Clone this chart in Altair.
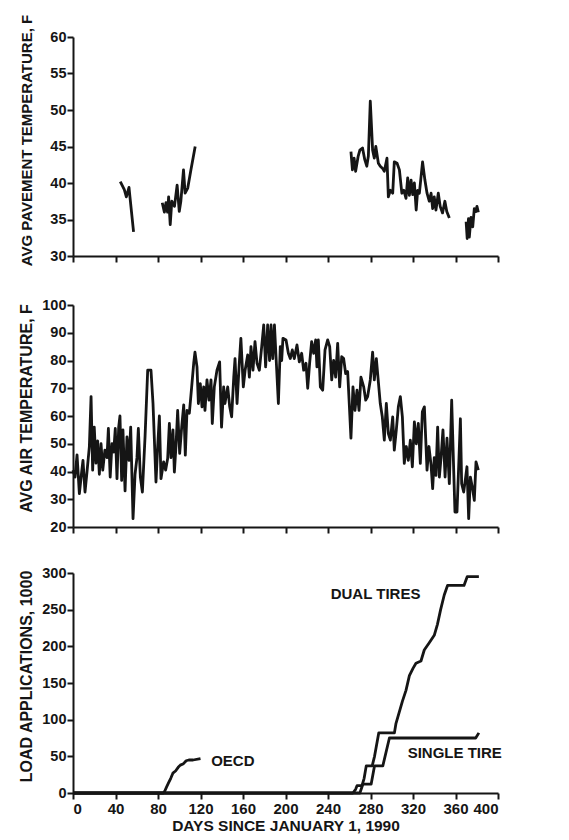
import altair as alt
import pandas as pd

# ---------------- data ----------------
# Average pavement temperature (F), four separate measurement periods
pave_seg = [1]*6 + [2]*16 + [3]*50 + [4]*10
pave_day = [44.5, 48.3, 50.2, 52.7, 53.6, 57.0,
            84, 86, 87.5, 89, 90, 91.5, 93, 95.5, 98, 100, 101.5, 104, 105.5, 108, 111, 115,
            261.6, 263, 264.6, 266, 268.3, 270, 272.5, 274.6, 276.5, 278, 279.8, 282, 283.6, 285, 287.4,
            289.2, 291.4, 293, 295.5, 296.8, 298.7, 300.9, 302.4, 305, 307.2, 309.5, 311.4, 313.4, 315,
            316.6, 318.2, 319.7, 321.3, 323, 324.4, 326, 329, 331.2, 333.2, 335.3, 337, 338.5, 340,
            341.6, 343.8, 345.6, 347.8, 350, 351.8, 354.2,
            370, 371, 372.2, 373, 374.6, 376.2, 377.7, 379.3, 380.2, 381.5]
pave_val = [40.2, 39.1, 38.1, 39.4, 38.1, 33.3,
            37.3, 36.0, 37.3, 36.0, 38.1, 34.3, 37.5, 36.8, 39.7, 36.1, 37.5, 41.8, 38.6, 39.3, 41.8, 45.0,
            44.3, 41.8, 43.4, 41.6, 43.6, 44.5, 44.8, 43.2, 42.3, 43.7, 51.2, 44.5, 43.4, 45.0, 42.7,
            42.3, 42.0, 41.6, 43.4, 38.1, 39.0, 38.6, 42.9, 42.7, 41.8, 38.6, 39.0, 37.9, 40.7,
            38.3, 40.4, 38.4, 40.0, 36.3, 39.0, 38.6, 42.9, 40.4, 38.6, 37.5, 38.6, 36.5, 38.1,
            36.3, 38.6, 36.8, 35.9, 37.5, 36.1, 35.2,
            34.7, 32.4, 35.1, 32.6, 35.3, 34.0, 36.5, 36.1, 36.8, 36.0]

# Average air temperature (F)
air_day = [0, 1.9, 3.8, 6, 8.2, 9.4, 11.3, 13.2, 15.4, 17, 18.5, 20, 21.6, 23.2, 24.8, 26.4, 28, 30,
           32, 33.3, 35, 36.7, 38.3, 39.8, 41.4, 43, 44.2, 45.8, 47, 49, 50.8, 52.7, 54.3, 56.5, 58.4,
           60.2, 61.5, 63.4, 65.3, 67.8, 70.3, 73.4, 75.3, 78.1, 79.7, 81.3, 82.8, 85.3, 87.2, 89.1,
           90.7, 92.2, 94.1, 95.4, 96.9, 98.5, 100.4, 102.3, 104.2, 105.7, 107.3, 109.5, 111.7, 113.6,
           114.8, 116.7, 118, 119.8, 121.4, 123, 124.2, 126.1, 128, 129.9, 131.1, 133, 135.5, 138,
           139.8, 141.8, 143, 145.6, 147.5, 149.3, 151.3, 152.5, 154.4, 156.5, 158, 160.3, 162, 164.4,
           166, 167.5, 169.4, 171.3, 173.2, 175.4, 177.6, 179.5, 181.3, 183.2, 185, 186.4, 188, 189.6,
           191.4, 193.3, 195.1, 196.4, 197.6, 200.5, 202.7, 204.5, 206.4, 208.3, 210.8, 213, 215.2,
           217.1, 219.3, 220.9, 222.7, 224.6, 226.5, 228.4, 229.6, 230.9, 232.8, 235, 237.2, 239.7,
           241.6, 243.5, 245.3, 247.2, 249.1, 251, 252.9, 254.7, 256.6, 258.5, 260, 261.6, 263.5,
           265.4, 267.3, 269.2, 271, 273.6, 275.5, 277.3, 279.8, 282, 283.6, 285.5, 287.4, 289.2,
           291.1, 293, 294.9, 296.8, 298.7, 300.9, 302.4, 304.3, 306.2, 308.1, 310, 311.8, 313.7,
           315.6, 317.5, 319.4, 321.3, 323.1, 325, 326.9, 328.8, 330.7, 333.2, 335, 337, 338.5, 340,
           341.6, 343.2, 344.8, 346.4, 348.2, 350.2, 352, 354.2, 356.4, 358.3, 359.5, 361.4, 363.3,
           364.6, 365.8, 367.7, 369.6, 370.8, 372.4, 374, 375.8, 377.7, 379.3, 381.5]
air_val = [40.5, 38, 46, 32, 40, 44, 32.6, 40, 49, 67, 40.5, 56, 43, 51, 39, 50, 40.5, 47.7,
           45, 55.5, 38, 50, 47, 55.5, 37.4, 56, 60, 36.8, 55, 33, 52.5, 44, 56, 23, 39,
           45, 55.5, 38, 32.6, 52.5, 76.5, 76.5, 64.5, 36.2, 49, 60, 37.4, 43.5, 40.5, 44.7,
           57.3, 45, 55, 39.8, 49, 62, 46.5, 56, 64, 45.9, 62, 61, 70.5, 79,
           83, 77.7, 64.5, 71.7, 63.3, 70.5, 62, 73, 65.7, 73, 57.3, 70.5, 76.5, 79.5,
           56, 70.5, 64.5, 70.5, 63.3, 59.7, 74, 80.7, 64.5, 79, 88, 70.5, 76.5, 82,
           74, 85, 76.5, 86.8, 79, 76.5, 85, 92.8, 77.7, 92.8, 80, 92.8, 80.7, 92.8,
           79, 64.5, 85, 80, 88, 87.4, 82.6, 80.7, 83.8, 80.7, 85.6, 79.5, 82.6,
           76.5, 79, 70, 79, 86.8, 82.6, 87.4, 77.7, 87.4, 70.5, 69.3, 83.8, 87.4,
           85, 73, 80, 74, 86.2, 70.5, 81.4, 80.7, 75.3, 76, 64.5, 52, 70.5,
           62, 69.3, 62, 74, 70.5, 65.7, 67, 73, 83, 73, 80.7, 72.3, 64.5,
           59.7, 51.3, 64.5, 53.7, 51.3, 59.7, 47.7, 55, 63.3, 67, 59.7, 42.9, 49,
           44, 51.3, 41.7, 57.9, 50, 57.3, 42.9, 61.5, 63.3, 40.5, 49, 42.3, 33.8, 45,
           38.6, 56, 38, 45, 55, 38, 52, 35.6, 65.7, 40.5, 25.4, 25.4, 45,
           59, 35.6, 32.6, 38, 41.7, 23, 38, 34.4, 29.6, 43.5, 40.5]

# Cumulative load applications (thousands)
oecd_day = [0, 85, 86.5, 88, 90, 92, 94, 96.5, 99, 101, 104, 106.5, 109, 113, 120]
oecd_val = [0, 0, 3, 8, 14, 20, 27, 30, 35, 38, 40, 44, 45, 45, 47]
dual_day = [0, 263.4, 266, 267.3, 272, 274, 276, 281.6, 283.8, 287.8, 302.5, 304, 307, 310, 313.4,
            316.6, 320, 322.8, 327.5, 330.6, 335.3, 340, 343, 346, 349.4, 352.5, 368, 371, 382]
dual_val = [0, 0, 5, 10, 10, 20, 37, 37, 50, 82, 82, 95, 110, 125, 140,
            160, 170, 177, 180, 195, 205, 215, 230, 250, 270, 283, 283, 295, 295]
single_day = [0, 270, 272.8, 280.6, 283.8, 291.6, 297.8, 379, 382]
single_val = [0, 0, 12, 12, 37, 37, 75, 75, 82]

label_text = ["OECD", "DUAL TIRES", "SINGLE TIRE"]
label_day = [130, 242.5, 315]
label_val = [43.5, 271, 54.5]

x_ticks = list(range(0, 401, 40))

# ---------------- frames ----------------
pave_df = pd.DataFrame({"day": pave_day, "val": pave_val, "seg": pave_seg})
air_df = pd.DataFrame({"day": air_day, "val": air_val})
load_df = pd.concat([
    pd.DataFrame({"day": oecd_day, "val": oecd_val, "series": "OECD"}),
    pd.DataFrame({"day": dual_day, "val": dual_val, "series": "DUAL"}),
    pd.DataFrame({"day": single_day, "val": single_val, "series": "SINGLE"}),
])
lab_df = pd.DataFrame({"text": label_text, "day": label_day, "val": label_val})

FONT = "Liberation Sans"
INK = "#151515"
W = 425
LW = 2.8


def x_enc(show_labels):
    if show_labels:
        ax = alt.Axis(values=x_ticks, title="DAYS SINCE JANUARY 1, 1990", labelFontSize=15,
                      titleFontSize=15.5, labelPadding=2, titlePadding=2, labelOverlap=False)
    else:
        ax = alt.Axis(values=x_ticks, labels=False, title=None)
    return alt.X("day:Q", scale=alt.Scale(domain=[0, 400], nice=False, zero=False), axis=ax)


def y_enc(title, lo, hi, step, tsize):
    return alt.Y("val:Q",
                 scale=alt.Scale(domain=[lo, hi], nice=False, zero=False),
                 axis=alt.Axis(values=list(range(lo, hi + 1, step)), title=title,
                               titleFontSize=tsize, titleX=-39, titleY=103,
                               labelFontSize=14.5, labelPadding=1, labelOverlap=False))


pave = alt.Chart(pave_df).mark_line(color=INK, strokeWidth=LW, strokeJoin="round").encode(
    x=x_enc(False),
    y=y_enc("AVG PAVEMENT TEMPERATURE, F", 30, 60, 5, 15),
    detail="seg:N",
).properties(width=W, height=219)

air = alt.Chart(air_df).mark_line(color=INK, strokeWidth=LW, strokeJoin="round").encode(
    x=x_enc(False),
    y=y_enc("AVG AIR TEMPERATURE, F", 20, 100, 10, 16),
).properties(width=W, height=222)

load_x = x_enc(True)
load_y = y_enc("LOAD APPLICATIONS, 1000", 0, 300, 50, 16)
load_lines = alt.Chart(load_df).mark_line(color=INK, strokeWidth=LW, strokeJoin="round").encode(
    x=load_x, y=load_y, detail="series:N",
)
load_text = alt.Chart(lab_df).mark_text(font=FONT, fontWeight="bold", fontSize=15, align="left",
                                        baseline="middle", color=INK).encode(
    x=load_x, y=load_y, text="text:N")
load = alt.layer(load_lines, load_text).properties(width=W, height=220)

chart = alt.vconcat(pave, air, load, spacing=31).properties(
    padding={"left": 17, "top": 14, "right": 5, "bottom": 2},
    background="white",
).configure_view(stroke=None).configure_axis(
    grid=False, domainColor=INK, domainWidth=2, tickColor=INK, tickWidth=2, tickSize=6,
    labelFont=FONT, labelFontWeight="bold", labelColor=INK,
    titleFont=FONT, titleFontWeight="bold", titleColor=INK,
)

chart.save("out.html", embed_options={"renderer": "svg", "actions": False})
